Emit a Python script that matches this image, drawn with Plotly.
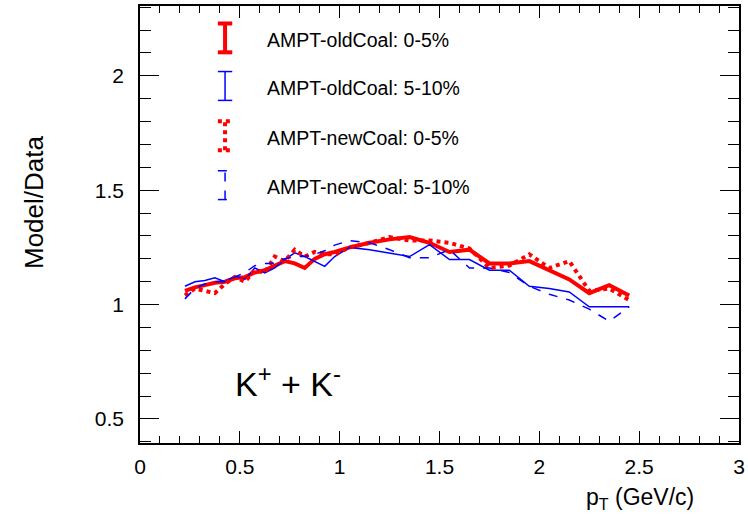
import plotly.graph_objects as go

# pT bin centres
pt = [0.225, 0.275, 0.325, 0.375, 0.425, 0.475, 0.525, 0.575, 0.625, 0.675,
      0.725, 0.775, 0.825, 0.875, 0.925, 0.975,
      1.05, 1.15, 1.25, 1.35, 1.45, 1.55, 1.65, 1.75, 1.85, 1.95,
      2.05, 2.15, 2.25, 2.35, 2.45]

old_0_5 = [1.06, 1.075, 1.085, 1.095, 1.10, 1.115, 1.12, 1.14, 1.15, 1.17,
           1.19, 1.18, 1.16, 1.20, 1.22, 1.23,
           1.25, 1.27, 1.285, 1.295, 1.27, 1.23, 1.24, 1.18, 1.18, 1.19,
           1.15, 1.11, 1.05, 1.085, 1.04]

old_5_10 = [1.08, 1.10, 1.105, 1.117, 1.10, 1.125, 1.11, 1.16, 1.138, 1.16,
            1.197, 1.226, 1.21, 1.19, 1.167, 1.21,
            1.25, 1.24, 1.225, 1.21, 1.262, 1.197, 1.197, 1.15, 1.15, 1.08,
            1.07, 1.055, 0.99, 0.99, 0.99]

new_0_5 = [1.04, 1.07, 1.06, 1.05, 1.09, 1.12, 1.10, 1.15, 1.14, 1.21,
           1.19, 1.24, 1.21, 1.23, 1.22, 1.22,
           1.25, 1.27, 1.295, 1.28, 1.28, 1.27, 1.245, 1.16, 1.17, 1.22,
           1.16, 1.19, 1.06, 1.07, 1.02]

new_5_10 = [1.025, 1.07, 1.09, 1.10, 1.10, 1.12, 1.14, 1.17, 1.18, 1.18,
            1.20, 1.21, 1.21, 1.22, 1.235, 1.26,
            1.28, 1.27, 1.24, 1.205, 1.205, 1.24, 1.16, 1.16, 1.14, 1.08,
            1.045, 1.02, 0.98, 0.927, 0.99]

legend_labels = ["AMPT-oldCoal: 0-5%", "AMPT-oldCoal: 5-10%",
                 "AMPT-newCoal: 0-5%", "AMPT-newCoal: 5-10%"]

RED = "#ff0000"
BLUE = "#0000ff"
styles = [
    dict(color=RED, width=4, dash="solid"),
    dict(color=BLUE, width=1.5, dash="solid"),
    dict(color=RED, width=4, dash="dot"),
    dict(color=BLUE, width=1.5, dash="dash"),
]
series = [old_0_5, old_5_10, new_0_5, new_5_10]

fig = go.Figure()
for ys, st, name in zip(series, styles, legend_labels):
    fig.add_trace(go.Scatter(x=pt, y=ys, mode="lines", line=st, name=name,
                             showlegend=False))

FONT = "Liberation Sans, Arial, sans-serif"

# Legend drawn manually (error-bar style glyphs)
leg_y = [0.927, 0.817, 0.703, 0.590]   # paper fractions
gx = 0.142  # paper x of glyph
for i, (lab, st) in enumerate(zip(legend_labels, styles)):
    yc = leg_y[i]
    h = 0.033
    w = 0.012
    dash = st["dash"]
    fig.add_shape(type="line", xref="paper", yref="paper", x0=gx, x1=gx,
                  y0=yc - h, y1=yc + h,
                  line=dict(color=st["color"], width=st["width"], dash=dash))
    for yy in (yc - h, yc + h):
        fig.add_shape(type="line", xref="paper", yref="paper", x0=gx - w, x1=gx + w,
                      y0=yy, y1=yy,
                      line=dict(color=st["color"], width=st["width"], dash=dash))
    fig.add_annotation(xref="paper", yref="paper", x=0.208, y=yc - 0.005,
                       xanchor="left", yanchor="middle", text=lab, showarrow=False,
                       font=dict(family=FONT, size=19.5, color="black"))

fig.add_annotation(xref="paper", yref="paper", x=0.155, y=0.14,
                   xanchor="left", yanchor="middle",
                   text="K<sup>+</sup> + K<sup>-</sup>", showarrow=False,
                   font=dict(family=FONT, size=34, color="black"))

fig.add_annotation(xref="paper", yref="paper", x=-0.178, y=0.55,
                   xanchor="center", yanchor="middle", textangle=-90,
                   text="Model/Data", showarrow=False,
                   font=dict(family=FONT, size=26, color="black"))

fig.add_annotation(xref="paper", yref="paper", x=0.835, y=-0.09,
                   xanchor="center", yanchor="top",
                   text="p<sub>T</sub> (GeV/c)", showarrow=False,
                   font=dict(family=FONT, size=23, color="black"))

fig.update_layout(
    width=748, height=525,
    margin=dict(l=140, r=3, t=6, b=82),
    paper_bgcolor="white", plot_bgcolor="white",
    font=dict(family=FONT, size=21, color="black"),
    showlegend=False,
)
fig.update_xaxes(
    range=[0, 3], tickvals=[0, 0.5, 1, 1.5, 2, 2.5, 3],
    ticktext=["0", "0.5", "1", "1.5", "2", "2.5", "3"],
    ticks="inside", ticklen=12, tickwidth=1.2, tickcolor="black",
    minor=dict(ticks="inside", ticklen=7, dtick=0.1, tickcolor="black", tickwidth=1.2),
    showline=True, linecolor="black", linewidth=1.5, mirror="allticks",
    showgrid=False, zeroline=False, ticklabelstandoff=4,
    ticklabeloverflow="allow",
)
fig.update_yaxes(
    range=[0.395, 2.305], tickvals=[0.5, 1, 1.5, 2],
    ticktext=["0.5", "1", "1.5", "2"],
    ticks="inside", ticklen=19, tickwidth=1.2, tickcolor="black",
    minor=dict(ticks="inside", ticklen=11, dtick=0.1, tickcolor="black", tickwidth=1.2),
    showline=True, linecolor="black", linewidth=1.5, mirror="allticks",
    showgrid=False, zeroline=False, ticklabelstandoff=10,
)

fig.write_html("out.html")
